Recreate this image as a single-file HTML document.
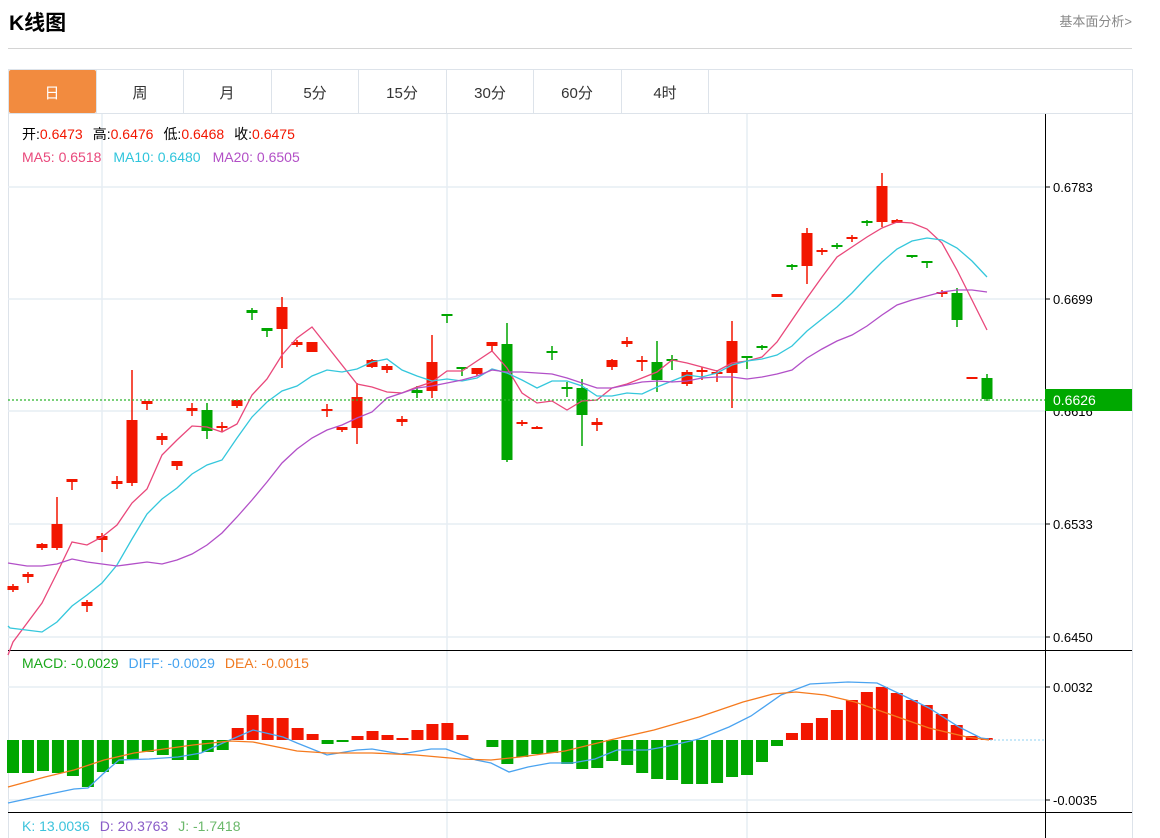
<!DOCTYPE html>
<html><head><meta charset="utf-8"><style>
body{margin:0;background:#fff;width:1160px;height:838px;overflow:hidden;font-family:"Liberation Sans","Noto Sans CJK SC",sans-serif}
svg{position:absolute;left:0;top:0}
</style></head><body>
<svg id="s" width="1160" height="838" xmlns="http://www.w3.org/2000/svg" font-family="Liberation Sans, Noto Sans CJK SC, sans-serif">
<text x="9" y="30" font-size="21" font-weight="bold" fill="#000">K线图</text>
<text x="1132" y="26" font-size="13" fill="#888" text-anchor="end">基本面分析&gt;</text>
<line x1="8" y1="48.5" x2="1132" y2="48.5" stroke="#d4d4d4"/>
<rect x="8.5" y="69.5" width="1124" height="770" fill="none" stroke="#dde3ea"/>
<line x1="8" y1="113.5" x2="1132" y2="113.5" stroke="#dde3ea"/>
<rect x="9" y="70" width="87" height="43" fill="#f28b3f" rx="2"/>
<g stroke="#dde3ea"><line x1="96.5" y1="70" x2="96.5" y2="113"/><line x1="183.5" y1="70" x2="183.5" y2="113"/><line x1="271.5" y1="70" x2="271.5" y2="113"/><line x1="358.5" y1="70" x2="358.5" y2="113"/><line x1="446.5" y1="70" x2="446.5" y2="113"/><line x1="533.5" y1="70" x2="533.5" y2="113"/><line x1="621.5" y1="70" x2="621.5" y2="113"/><line x1="708.5" y1="70" x2="708.5" y2="113"/></g>
<g font-size="15" text-anchor="middle" fill="#333"><text x="52" y="98" fill="#fff">日</text><text x="140" y="98">周</text><text x="227" y="98">月</text><text x="315" y="98">5分</text><text x="402" y="98">15分</text><text x="490" y="98">30分</text><text x="577" y="98">60分</text><text x="665" y="98">4时</text></g>
<g stroke="#e6edf3" stroke-width="1.5">
<line x1="8" y1="187" x2="1045" y2="187"/><line x1="8" y1="299" x2="1045" y2="299"/><line x1="8" y1="411" x2="1045" y2="411"/><line x1="8" y1="524" x2="1045" y2="524"/><line x1="8" y1="637" x2="1045" y2="637"/>
<line x1="102" y1="114" x2="102" y2="838"/><line x1="447" y1="114" x2="447" y2="838"/><line x1="747" y1="114" x2="747" y2="838"/>
<line x1="8" y1="687" x2="1045" y2="687"/><line x1="8" y1="800" x2="1045" y2="800"/>
</g>
<line x1="1045.5" y1="114" x2="1045.5" y2="838" stroke="#000"/>
<line x1="8" y1="650.5" x2="1132" y2="650.5" stroke="#000"/>
<line x1="8" y1="812.5" x2="1132" y2="812.5" stroke="#000"/>
<g stroke="#000"><line x1="1045" y1="187" x2="1050" y2="187"/><line x1="1045" y1="299" x2="1050" y2="299"/><line x1="1045" y1="524" x2="1050" y2="524"/><line x1="1045" y1="637" x2="1050" y2="637"/><line x1="1045" y1="687" x2="1050" y2="687"/><line x1="1045" y1="800" x2="1050" y2="800"/></g>
<g font-size="13" fill="#000"><text x="1053" y="192">0.6783</text><text x="1053" y="304">0.6699</text><text x="1053" y="416">0.6616</text><text x="1053" y="529">0.6533</text><text x="1053" y="642">0.6450</text><text x="1053" y="692">0.0032</text><text x="1053" y="805">-0.0035</text></g>
<g id="cd"></g>
<g id="ln" fill="none" stroke-width="1.3"></g>
<line x1="8" y1="400" x2="1045" y2="400" stroke="#2cb52c" stroke-dasharray="2,2" stroke-width="1.3"/>
<line x1="990" y1="740" x2="1045" y2="740" stroke="#8fd0f0" stroke-dasharray="2,2"/>
<rect x="1045" y="389" width="87" height="22" fill="#00a800"/>
<text x="1053" y="405" font-size="14" fill="#fff">0.6626</text>
<g font-size="14">
<text x="22" y="139"><tspan fill="#000">开:</tspan><tspan fill="#f21600">0.6473</tspan><tspan fill="#000" dx="10">高:</tspan><tspan fill="#f21600">0.6476</tspan><tspan fill="#000" dx="10">低:</tspan><tspan fill="#f21600">0.6468</tspan><tspan fill="#000" dx="10">收:</tspan><tspan fill="#f21600">0.6475</tspan></text>
<text x="22" y="162"><tspan fill="#e9487b">MA5: 0.6518</tspan><tspan fill="#2fc5dc" dx="12">MA10: 0.6480</tspan><tspan fill="#b24fc6" dx="12">MA20: 0.6505</tspan></text>
<text x="22" y="668"><tspan fill="#1aa81a">MACD: -0.0029</tspan><tspan fill="#45a3f0" dx="10">DIFF: -0.0029</tspan><tspan fill="#f07a20" dx="10">DEA: -0.0015</tspan></text>
<text x="22" y="831"><tspan fill="#3cc3dc">K: 13.0036</tspan><tspan fill="#8a5cc8" dx="10">D: 20.3763</tspan><tspan fill="#6bb86b" dx="10">J: -1.7418</tspan></text>
</g>
</svg>
<script>
var R="#f21600",G="#00a600";
var c=[[13,586,590,584,592,R],[28,574,577,572,583,R],[42,544,548,543,550,R],[57,524,548,497,550,R],[72,479,482,479,490,R],[87,602,606,600,612,R],[102,536,540,533,552,R],[117,481,484,476,489,R],[132,420,483,370,486,R],[147,401,404,401,410,R],[162,436,440,433,445,R],[177,461,466,461,470,R],[192,408,411,403,416,R],[207,410,431,403,439,G],[222,426,428,422,432,R],[237,400,406,400,408,R],[252,310,313,308,320,G],[267,328,331,328,337,G],[282,307,329,297,368,R],[297,342,345,340,347,R],[312,342,352,342,352,R],[327,409,411,404,417,R],[342,427,430,427,432,R],[357,397,428,383,444,R],[372,360,367,359,368,R],[387,366,370,364,373,R],[402,419,422,416,426,R],[417,390,393,386,398,G],[432,362,391,335,398,R],[447,314,316,314,323,G],[462,367,369,367,376,G],[477,368,374,368,376,R],[492,342,346,342,352,R],[507,344,460,323,462,G],[522,422,424,420,426,R],[537,427,429,426,429,R],[552,351,353,346,360,G],[567,387,389,382,397,G],[582,388,415,379,446,G],[597,422,425,418,431,R],[612,360,367,359,370,R],[627,341,344,337,347,R],[642,360,362,356,371,R],[657,362,380,341,392,G],[672,359,361,355,370,G],[687,372,384,370,386,R],[702,370,372,367,380,R],[717,372,374,370,382,R],[732,341,373,321,408,R],[747,356,358,356,369,G],[762,346,348,345,350,G],[777,294,297,294,297,R],[792,265,267,264,270,G],[807,233,266,228,284,R],[822,250,252,248,255,R],[837,245,247,243,249,G],[852,237,238,235,242,R],[867,221,223,220,226,G],[882,186,222,173,227,R],[897,220,223,219,223,R],[912,255,257,255,258,G],[927,261,263,261,268,G],[942,292,294,290,297,R],[957,293,320,288,327,G],[972,377,379,377,379,R],[987,378,399,374,401,G]];
var h="";
c.forEach(function(d){h+='<line x1="'+d[0]+'" x2="'+d[0]+'" y1="'+d[3]+'" y2="'+d[4]+'" stroke="'+d[5]+'" stroke-width="1.5"/><rect x="'+(d[0]-5.5)+'" y="'+d[1]+'" width="11" height="'+Math.max(2,d[2]-d[1])+'" fill="'+d[5]+'"/>';});
var m=[33,33,31,33,36,47,32,24,19,12,15,20,20,12,10,-12,-25,-22,-22,-12,-6,4,2,-4,-9,-5,-2,-10,-16,-17,-5,0,7,24,17,14,13,24,29,28,21,25,33,39,40,44,44,43,37,35,22,6,-7,-17,-22,-30,-40,-48,-53,-47,-40,-35,-26,-15,-4,-2];
m.forEach(function(v,i){var x=13+i*14.98;if(v==0)return;var y=v>0?740:740+v;h+='<rect x="'+(x-6)+'" y="'+y+'" width="12" height="'+Math.abs(v)+'" fill="'+(v>0?"#00a600":"#f21600")+'"/>';});
document.getElementById("cd").innerHTML=h;
var L={"#e9487b":"8,655 13,642 42,603 57,573 72,542 87,545 102,537 117,525 132,503 147,489 162,455 177,440 192,426 207,427 222,432 237,424 252,395 267,379 282,355 297,338 312,327 357,384 372,387 387,392 402,393 417,387 432,382 447,371 462,371 492,351 507,368 522,393 537,403 552,401 567,410 582,401 597,400 612,388 627,384 642,378 657,372 672,360 687,363 702,367 717,371 732,363 747,361 762,357 777,342 792,320 807,298 822,277 837,257 852,247 867,237 882,228 897,222 912,223 927,229 942,243 957,270 972,300 987,330",
"#34c7dc":"8,626 10,628 42,632 57,622 72,606 87,595 102,583 117,565 132,539 147,514 162,499 177,488 192,474 207,465 222,460 237,438 252,417 267,402 282,391 297,386 312,376 327,370 342,372 357,369 372,362 387,359 402,370 417,376 432,381 447,379 462,381 477,378 492,369 507,373 522,380 537,388 552,381 567,381 582,386 597,396 612,396 627,393 642,394 657,387 672,381 687,375 702,377 717,373 732,365 747,361 762,359 777,355 792,346 807,331 822,319 837,307 852,293 867,277 882,262 897,249 912,241 927,238 942,240 957,248 972,261 987,277",
"#b250c8":"8,563 27,566 42,566 57,564 72,559 87,562 102,564 117,566 147,562 162,564 177,560 192,554 207,545 222,533 237,517 252,500 267,482 282,463 297,449 312,438 327,430 342,425 357,418 372,412 387,398 402,393 417,388 432,386 447,383 462,380 477,376 492,370 507,372 522,372 537,373 552,374 567,378 582,383 597,388 612,388 627,385 642,382 657,381 672,382 687,381 702,378 717,377 732,377 747,379 762,377 777,374 792,370 807,358 822,349 837,341 852,335 867,326 882,315 897,305 912,300 927,296 942,292 957,290 972,290 987,292",
"#4aa3f0":"8,803 45,795 74,789 88,788 104,773 119,760 149,759 178,757 201,753 223,743 253,730 283,737 297,743 327,755 357,750 372,749 401,754 431,749 446,749 476,760 491,763 509,772 528,767 550,763 572,763 595,759 617,750 647,750 669,746 699,739 729,727 751,716 781,695 810,684 848,682 877,683 900,694 929,708 959,727 981,738 989,739",
"#f57a1e":"8,787 45,777 74,770 104,760 134,753 164,749 193,745 230,741 253,742 297,751 327,753 372,753 416,755 461,759 491,760 520,757 565,751 610,740 654,730 699,717 743,702 773,694 796,692 825,695 855,702 892,715 929,728 967,737 989,740"};
var s="";for(var k in L)s+='<polyline points="'+L[k]+'" stroke="'+k+'"/>';
document.getElementById("ln").innerHTML=s;
</script>
</body></html>
